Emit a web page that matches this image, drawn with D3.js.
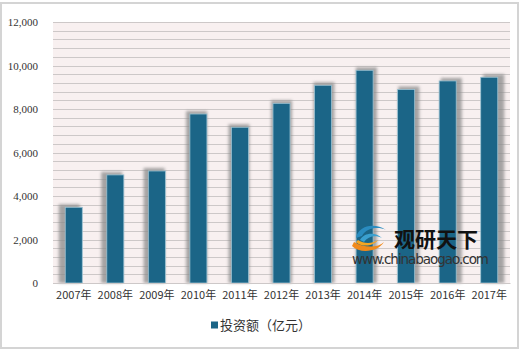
<!DOCTYPE html>
<html>
<head>
<meta charset="utf-8">
<script src="https://cdn.jsdelivr.net/npm/d3@7"></script>
<style>
  body { margin: 0; background: #fff; }
  text { font-family: "Noto Sans CJK SC", "DejaVu Sans", sans-serif; }
</style>
</head>
<body>
<div id="chart"></div>
<script>
const years = ["2007年", "2008年", "2009年", "2010年", "2011年", "2012年", "2013年", "2014年", "2015年", "2016年", "2017年"];
const investment = [3480, 4970, 5150, 7770, 7160, 8260, 9090, 9780, 8900, 9290, 9460];
const yTicks = [0, 2000, 4000, 6000, 8000, 10000, 12000];
const seriesName = "投资额（亿元）";

const width = 520, height = 351;
const margin = {top: 22, right: 10, bottom: 68, left: 53};
const barColor = "#1b6587";

const svg = d3.select("#chart").append("svg")
    .attr("width", width)
    .attr("height", height);

const defs = svg.append("defs");
defs.append("filter")
    .attr("id", "blur")
    .attr("x", "-50%").attr("y", "-10%")
    .attr("width", "200%").attr("height", "120%")
    .append("feGaussianBlur")
    .attr("stdDeviation", 1.6);

// outer frame
svg.append("rect")
    .attr("x", 1).attr("y", 3)
    .attr("width", width - 3).attr("height", height - 6)
    .attr("fill", "#fff")
    .attr("stroke", "#d4d4d4")
    .attr("stroke-width", 2);

const x = d3.scaleBand()
    .domain(years)
    .range([margin.left, width - margin.right])
    .paddingInner(0.59)
    .paddingOuter(0.295);

const y = d3.scaleLinear()
    .domain([0, 12000])
    .range([height - margin.bottom, margin.top]);

const plotW = width - margin.right - margin.left;
const plotMid = margin.left + plotW / 2;

// plot background
svg.append("rect")
    .attr("x", margin.left).attr("y", y(12000))
    .attr("width", plotW).attr("height", y(0) - y(12000))
    .attr("fill", "#f8f0f0");

// grid lines every 400
const gridVals = d3.range(0, 12001, 400);
svg.append("g").selectAll("line")
    .data(gridVals)
    .join("line")
    .attr("x1", margin.left).attr("x2", width - margin.right)
    .attr("y1", d => Math.round(y(d)) + 0.5)
    .attr("y2", d => Math.round(y(d)) + 0.5)
    .attr("stroke", "#cdc8c8")
    .attr("stroke-width", 1);

// bar shadows
svg.append("g").selectAll("rect")
    .data(investment)
    .join("rect")
    .attr("x", (d, i) => {
        const cx = x(years[i]) + x.bandwidth() / 2;
        return x(years[i]) - 2 + (cx - plotMid) / (plotW / 2) * 5;
    })
    .attr("y", d => y(d) - 3)
    .attr("width", x.bandwidth() + 4)
    .attr("height", d => y(0) - y(d) + 3)
    .attr("fill", "#8a8a8a")
    .attr("opacity", 0.75)
    .attr("filter", "url(#blur)");

// bars
svg.append("g").selectAll("rect")
    .data(investment)
    .join("rect")
    .attr("x", (d, i) => x(years[i]))
    .attr("y", d => y(d))
    .attr("width", x.bandwidth())
    .attr("height", d => y(0) - y(d))
    .attr("fill", barColor)
    .attr("stroke", "#9cc3d3")
    .attr("stroke-width", 0.8);

// y axis
const yAxis = svg.append("g")
    .attr("transform", `translate(${margin.left - 12},0)`)
    .call(d3.axisLeft(y).tickValues(yTicks).tickSize(0).tickFormat(d3.format(",")));
yAxis.select(".domain").remove();
yAxis.selectAll("text")
    .attr("fill", "#333")
    .style("font-size", "11px")
    .style("font-family", "\"Liberation Serif\", \"Noto Sans CJK SC\", serif");

// x axis
const xAxis = svg.append("g")
    .attr("transform", `translate(0,${y(0)})`)
    .call(d3.axisBottom(x).tickSize(0).tickPadding(8));
xAxis.select(".domain").attr("stroke", "#cdc8c8");
xAxis.selectAll("text")
    .attr("fill", "#333")
    .style("font-size", "11px");

// legend
const legend = svg.append("g").attr("transform", "translate(211,325)");
legend.append("rect")
    .attr("x", 0).attr("y", -3.5)
    .attr("width", 7).attr("height", 7)
    .attr("fill", barColor);
legend.append("text")
    .attr("x", 9).attr("y", 0)
    .attr("dy", "0.35em")
    .attr("fill", "#333")
    .style("font-size", "13px")
    .text(seriesName);

// watermark
const wm = svg.append("g").attr("transform", "translate(352,224)");
wm.append("path")
    .attr("d", "M4,14 C6,2 22,-2 34,6 C26,2 14,4 10,12 Z")
    .attr("fill", "#2a8cc0");
wm.append("path")
    .attr("d", "M8,16 C12,8 24,8 30,14 C24,11 16,12 12,18 Z")
    .attr("fill", "#3aa0d0");
wm.append("path")
    .attr("d", "M0,22 C8,30 26,28 32,18 C26,24 12,24 2,18 Z")
    .attr("fill", "#f08a1c");
wm.append("path")
    .attr("d", "M4,18 C10,24 22,22 26,16 C20,20 12,20 6,16 Z")
    .attr("fill", "#f5a623");
wm.append("text")
    .attr("x", 42).attr("y", 23)
    .attr("fill", "#111")
    .style("font-size", "21px")
    .style("font-weight", "bold")
    .text("观研天下");
wm.append("text")
    .attr("x", 0).attr("y", 40)
    .attr("fill", "#333")
    .style("font-size", "13.5px")
    .style("font-family", "\"DejaVu Sans\", sans-serif")
    .attr("textLength", 137)
    .text("www.chinabaogao.com");
</script>
</body>
</html>
